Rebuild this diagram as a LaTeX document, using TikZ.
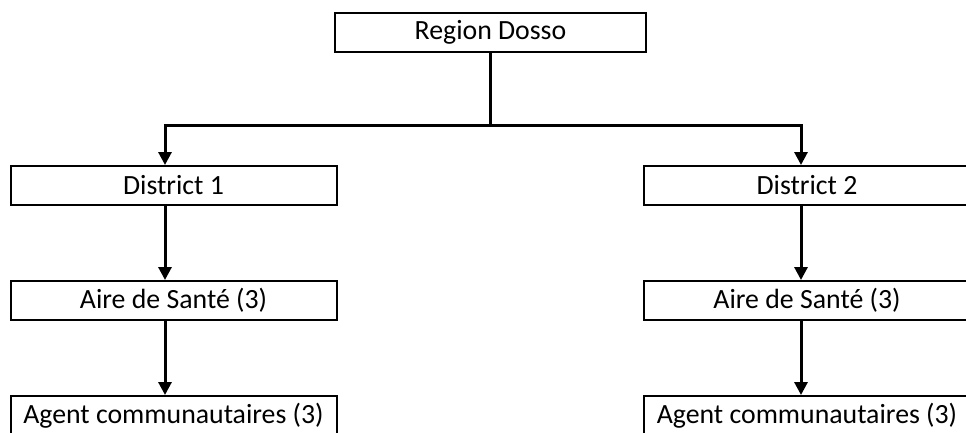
\documentclass[tikz,border=0pt]{standalone}
\usepackage{fontspec}
\setmainfont{Carlito}
\usetikzlibrary{arrows.meta}

\tikzset{
  unitbox/.style={draw=black,line width=2pt,minimum width=326pt,minimum height=39pt,
    inner sep=0pt,font=\fontsize{27.8}{31}\selectfont},
  link/.style={line width=3pt},
  linkarrow/.style={line width=3pt,-{Triangle[length=13pt,width=13pt]}}
}

\begin{document}
\begin{tikzpicture}[x=1pt,y=-1pt]
    \useasboundingbox (0,0) rectangle (966,432);
    \clip (0,0) rectangle (966,432);
    \node[unitbox,minimum width=311pt] (dosso) at (490.5,32.5) {Region Dosso};
    \node[unitbox] (dist1) at (173.5,185.5) {District 1};
    \node[unitbox] (dist2) at (807,185.5) {District 2};
    \node[unitbox] (aire1) at (173.5,300.5) {Aire de Santé (3)};
    \node[unitbox] (aire2) at (807,300.5) {Aire de Santé (3)};
    \node[unitbox] (agent1) at (173.5,415.5) {Agent communautaires (3)};
    \node[unitbox] (agent2) at (807,415.5) {Agent communautaires (3)};
    \coordinate (bus1) at (165,125);
    \coordinate (bus2) at (801,125);
    \draw[link] (dosso.south) -- (dosso.south |- bus1);
    \draw[link,line cap=rect] (bus1) -- (bus2);
    \draw[linkarrow] (bus1) -- (bus1 |- dist1.north);
    \draw[linkarrow] (bus2) -- (bus2 |- dist2.north);
    \draw[linkarrow] (bus1 |- dist1.south) -- (bus1 |- aire1.north);
    \draw[linkarrow] (bus2 |- dist2.south) -- (bus2 |- aire2.north);
    \draw[linkarrow] (bus1 |- aire1.south) -- (bus1 |- agent1.north);
    \draw[linkarrow] (bus2 |- aire2.south) -- (bus2 |- agent2.north);
  \end{tikzpicture}
\end{document}
